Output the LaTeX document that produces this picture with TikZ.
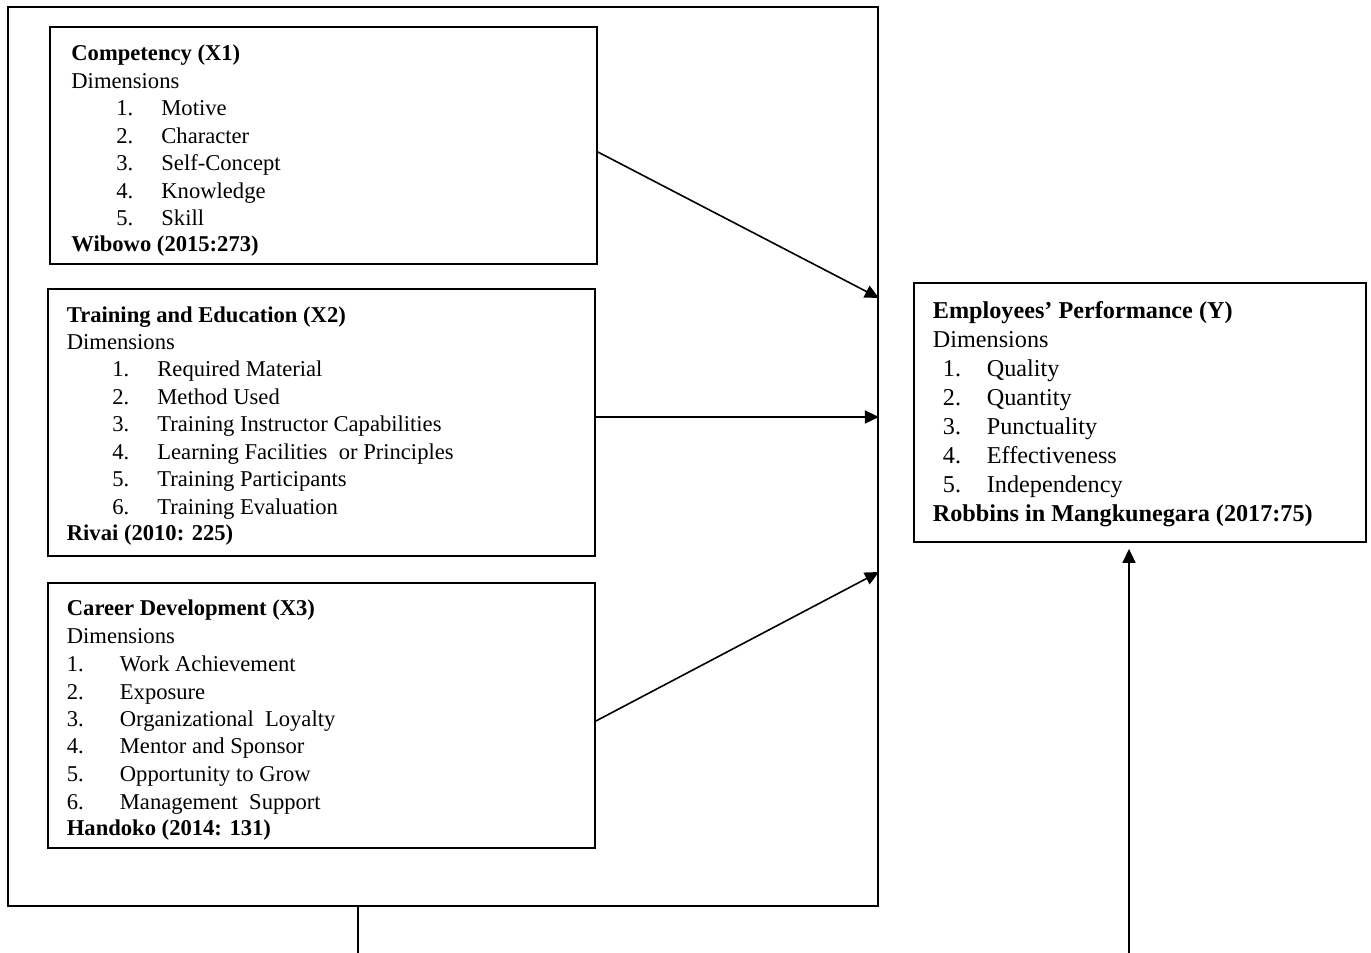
\documentclass[tikz,border=0pt]{standalone}
\usepackage{fontspec}
\setmainfont{Liberation Serif}
\usetikzlibrary{arrows.meta}
\begin{document}
\begin{tikzpicture}[x=0.5pt,y=-0.5pt,
  box/.style={draw=black, line width=0.9pt, inner sep=0pt, fill=none},
  txt/.style={anchor=base west, inner sep=0pt, font=\fontsize{11.3}{13}\selectfont},
  ytxt/.style={anchor=base west, inner sep=0pt, font=\fontsize{12.1}{14}\selectfont},
  conn/.style={draw=black, line width=0.8pt},
  arr/.style={conn, -{Triangle[length=7pt,width=6.5pt]}}]
\useasboundingbox (0,0) rectangle (1371,953);
\fill[white] (0,0) rectangle (1371,953);

% boxes
\node[box, minimum width=435pt, minimum height=449.5pt] (outer) at (443,456.5) {};
\node[box, minimum width=273.5pt, minimum height=118.5pt] (x1) at (323.5,145.5) {};
\node[box, minimum width=273.5pt, minimum height=133.5pt] (x2) at (321.5,422.5) {};
\node[box, minimum width=273.5pt, minimum height=132.5pt] (x3) at (321.5,715.5) {};
\node[box, minimum width=226pt, minimum height=129.5pt] (y) at (1140,412.5) {};

% Competency
\node[txt] (x1title) at (71,61) {\textbf{Competency (X1)}};
\node[txt] (x1dim) at (71,88) {Dimensions};
\foreach \yy/\txtt [count=\i] in {115.5/Motive, 143/Character, 170.5/Self-Concept, 198/Knowledge, 225.5/Skill} {
  \node[txt] (x1n\i) at (116,\yy) {\i.};
  \node[txt] (x1t\i) at (161,\yy) {\txtt};
}
\node[txt] (x1src) at (71,251) {\textbf{Wibowo (2015:273)}};

% Training and Education
\node[txt] (x2title) at (66.5,322) {\textbf{Training and Education (X2)}};
\node[txt] (x2dim) at (66.5,349) {Dimensions};
\foreach \yy/\txtt [count=\i] in {376/Required Material, 404/Method Used, 431.5/Training Instructor Capabilities, 459.5/Learning Facilities\ \ or Principles, 486.5/Training Participants, 514.5/Training Evaluation} {
  \node[txt] (x2n\i) at (112,\yy) {\i.};
  \node[txt] (x2t\i) at (157,\yy) {\txtt};
}
\node[txt] (x2src) at (66.5,540) {\textbf{Rivai (2010: 225)}};

% Career Development
\node[txt] (x3title) at (66.5,615) {\textbf{Career Development (X3)}};
\node[txt] (x3dim) at (66.5,643) {Dimensions};
\foreach \yy/\txtt [count=\i] in {671/Work Achievement, 699/Exposure, 726/Organizational\ \ Loyalty, 753.5/Mentor and Sponsor, 781.5/Opportunity to Grow, 809.5/Management\ \ Support} {
  \node[txt] (x3n\i) at (66.5,\yy) {\i.};
  \node[txt] (x3t\i) at (119.5,\yy) {\txtt};
}
\node[txt] (x3src) at (66.5,835.5) {\textbf{Handoko (2014: 131)}};

% Employees' Performance
\node[ytxt] (ytitle) at (932.5,318.5) {\textbf{Employees’ Performance (Y)}};
\node[ytxt] (ydim) at (932.5,347.5) {Dimensions};
\foreach \yy/\txtt [count=\i] in {376.5/Quality, 405.5/Quantity, 434.5/Punctuality, 463/Effectiveness, 492/Independency} {
  \node[ytxt] (yn\i) at (942.5,\yy) {\i.};
  \node[ytxt] (yt\i) at (986.5,\yy) {\txtt};
}
\node[ytxt] (ysrc) at (932.5,521.5) {\textbf{Robbins in Mangkunegara (2017:75)}};

% connectors
\coordinate (a1s) at (x1.east |- 0,152);
\coordinate (a1e) at (outer.east |- 0,298);
\coordinate (a2s) at (x2.east |- 0,417);
\coordinate (a2e) at (outer.east |- 0,417);
\coordinate (a3s) at (x3.east |- 0,721);
\coordinate (a3e) at (outer.east |- 0,572);
\draw[arr] (a1s) -- (a1e);
\draw[arr] (a2s) -- (a2e);
\draw[arr] (a3s) -- (a3e);

\coordinate (downtop) at (outer.south -| 358,0);
\coordinate (downbot) at (358,953);
\draw[conn] (downtop) -- (downbot);

\coordinate (upbot) at (1129,953);
\coordinate (uptip) at ([yshift=-3pt]y.south -| 1129,0);
\draw[arr] (upbot) -- (uptip);
\end{tikzpicture}
\end{document}
